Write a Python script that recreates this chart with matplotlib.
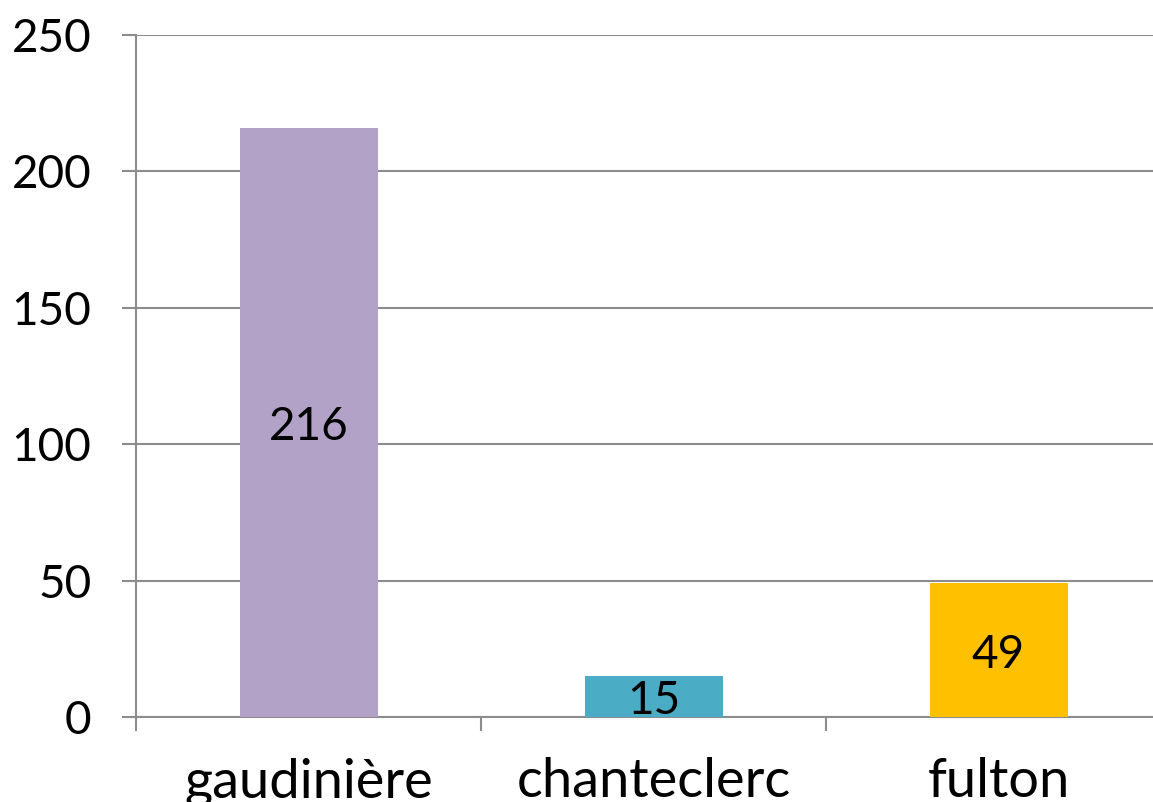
import matplotlib
matplotlib.use("Agg")
import matplotlib.pyplot as plt

categories = ["gaudinière", "chanteclerc", "fulton"]
values = [216, 15, 49]
colors = ["#B3A2C7", "#4BACC6", "#FFC000"]
yticks = [0, 50, 100, 150, 200, 250]

plt.rcParams['font.family'] = ['Lato', 'DejaVu Sans']

W, H = 1153, 802
fig = plt.figure(figsize=(W / 100, H / 100), dpi=100)
ax = fig.add_axes([136 / W, 1 - 717 / H, (1171 - 136) / W, (717 - 35) / H])

x = list(range(len(categories)))
bars = ax.bar(x, values, width=0.4, color=colors, zorder=3)
for b, v in zip(bars, values):
    ax.annotate(str(v), (b.get_x() + b.get_width() / 2, v / 2), xytext=(0, -3.5),
                textcoords='offset points', ha='center', va='center',
                fontsize=33, color='black', zorder=4)

ax.set_xlim(-0.5, 2.5)
ax.set_ylim(0, 250)
ax.set_yticks(yticks)
ax.set_yticklabels([str(t) for t in yticks])
ax.set_xticks([-0.5, 0.5, 1.5, 2.5], minor=False)
ax.set_xticklabels([])
ax.set_xticks(x, minor=True)
ax.set_xticklabels(categories, minor=True)

gc = '#8C8C8C'
ax.yaxis.grid(True, color=gc, linewidth=1.5, zorder=0)
ax.set_axisbelow(True)
for s in ['top', 'right']:
    ax.spines[s].set_visible(False)
for s in ['left', 'bottom']:
    ax.spines[s].set_color(gc)
    ax.spines[s].set_linewidth(1.5)
ax.tick_params(axis='y', which='major', length=10, width=1.5, color=gc, labelsize=33, pad=22)
ax.tick_params(axis='x', which='major', length=10, width=1.5, color=gc)
ax.tick_params(axis='x', which='minor', length=0, labelsize=39, pad=29)

fig.savefig("out.png", dpi=100)
